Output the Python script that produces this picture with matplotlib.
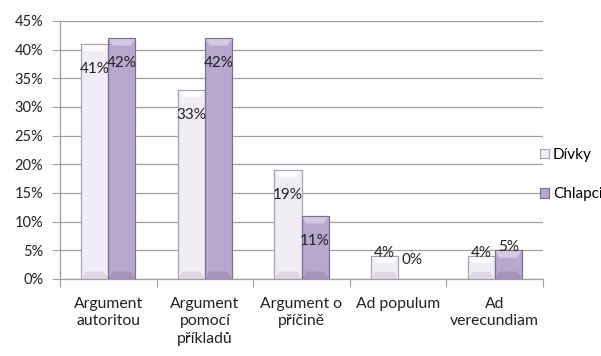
import numpy as np
import matplotlib.pyplot as plt
from matplotlib.patches import Polygon
from matplotlib.ticker import MultipleLocator, FuncFormatter

categories = ["Argument\nautoritou", "Argument\npomocí\npříkladů", "Argument o\npříčině",
              "Ad populum", "Ad\nverecundiam"]
divky = [41, 33, 19, 4, 4]
chlapci = [42, 42, 11, 0, 5]
series_names = ["Dívky", "Chlapci"]

plt.rcParams['font.family'] = ['Lato', 'DejaVu Sans']

fig = plt.figure(figsize=(6.01, 3.56), dpi=100)
ax = fig.add_axes([60/601, 1-279/356, (543-60)/601, (279-21)/356])

x = np.arange(len(categories))
w = 0.28
colors = ["#f1edf7", "#b8a8cf"]
edges = ["#a8a2b0", "#7c6e8e"]
bevel_top = ["#fbfafd", "#d3c9e2"]
bevel_bot = ["#dcd6e4", "#a493bd"]

bars1 = ax.bar(x - w/2, divky, w, color=colors[0], edgecolor=edges[0], linewidth=0.8,
               label=series_names[0], zorder=3)
bars2 = ax.bar(x + w/2, chlapci, w, color=colors[1], edgecolor=edges[1], linewidth=0.8,
               label=series_names[1], zorder=3)


def add_bevel(bars, top_c, bot_c, edge_c):
    # light cap on top and darker foot, like an Office bevel
    for b in bars:
        x0, bw, h = b.get_x(), b.get_width(), b.get_height()
        if h <= 0:
            continue
        dx = bw * 0.17
        dy = min(1.3, h * 0.3)
        ax.add_patch(Polygon([(x0, h), (x0 + bw, h), (x0 + bw - dx, h - dy), (x0 + dx, h - dy)],
                             closed=True, facecolor=top_c, edgecolor='none', zorder=3.5))
        ax.add_patch(Polygon([(x0, 0), (x0 + bw, 0), (x0 + bw - dx, dy), (x0 + dx, dy)],
                             closed=True, facecolor=bot_c, edgecolor='none', zorder=3.5))
        # outline drawn again above the bevel faces
        ax.add_patch(plt.Rectangle((x0, 0), bw, h, fill=False, edgecolor=edge_c,
                                   linewidth=0.8, zorder=3.8))


add_bevel(bars1, bevel_top[0], bevel_bot[0], edges[0])
add_bevel(bars2, bevel_top[1], bevel_bot[1], edges[1])


def label_y(v):
    # labels sit a little below the top on tall bars, above on short ones
    if v >= 10:
        return v - 4.4
    return max(v + 0.6, 3.4)


for bars, vals in ((bars1, divky), (bars2, chlapci)):
    for b, v in zip(bars, vals):
        ax.text(b.get_x() + b.get_width()/2, label_y(v), f"{v}%", ha='center', va='center',
                fontsize=11, color="#222222", zorder=5)

ax.set_xlim(-0.5, len(categories) - 0.5)
ax.set_ylim(0, 45)
ax.yaxis.set_major_locator(MultipleLocator(5))
ax.yaxis.set_major_formatter(FuncFormatter(lambda v, p: f"{v:.0f}%"))
ax.grid(axis='y', color="#a0a0a0", linewidth=0.9, zorder=0)

ax.set_xticks(np.arange(len(categories) + 1) - 0.5)
ax.set_xticklabels([])
ax.set_xticks(x, minor=True)
ax.set_xticklabels(categories, minor=True, fontsize=11.3, color="#222222", linespacing=1.3)
ax.tick_params(axis='x', which='major', length=6, color="#a0a0a0", direction='out')
ax.tick_params(axis='x', which='minor', length=0, pad=13)
ax.tick_params(axis='y', length=6, color="#a0a0a0", labelsize=10.5, labelcolor="#222222", pad=6)

for s in ('top', 'right'):
    ax.spines[s].set_visible(False)
for s in ('left', 'bottom'):
    ax.spines[s].set_color("#a0a0a0")
    ax.spines[s].set_linewidth(0.9)

leg = fig.legend(handles=[bars1, bars2], labels=series_names, loc='upper left',
                 bbox_to_anchor=(540/601, 1-148/356), frameon=False, fontsize=11,
                 handlelength=0.6, handleheight=0.6, handletextpad=0.25, labelspacing=1.65,
                 borderaxespad=0, borderpad=0)

fig.savefig("out.png", dpi=100)
